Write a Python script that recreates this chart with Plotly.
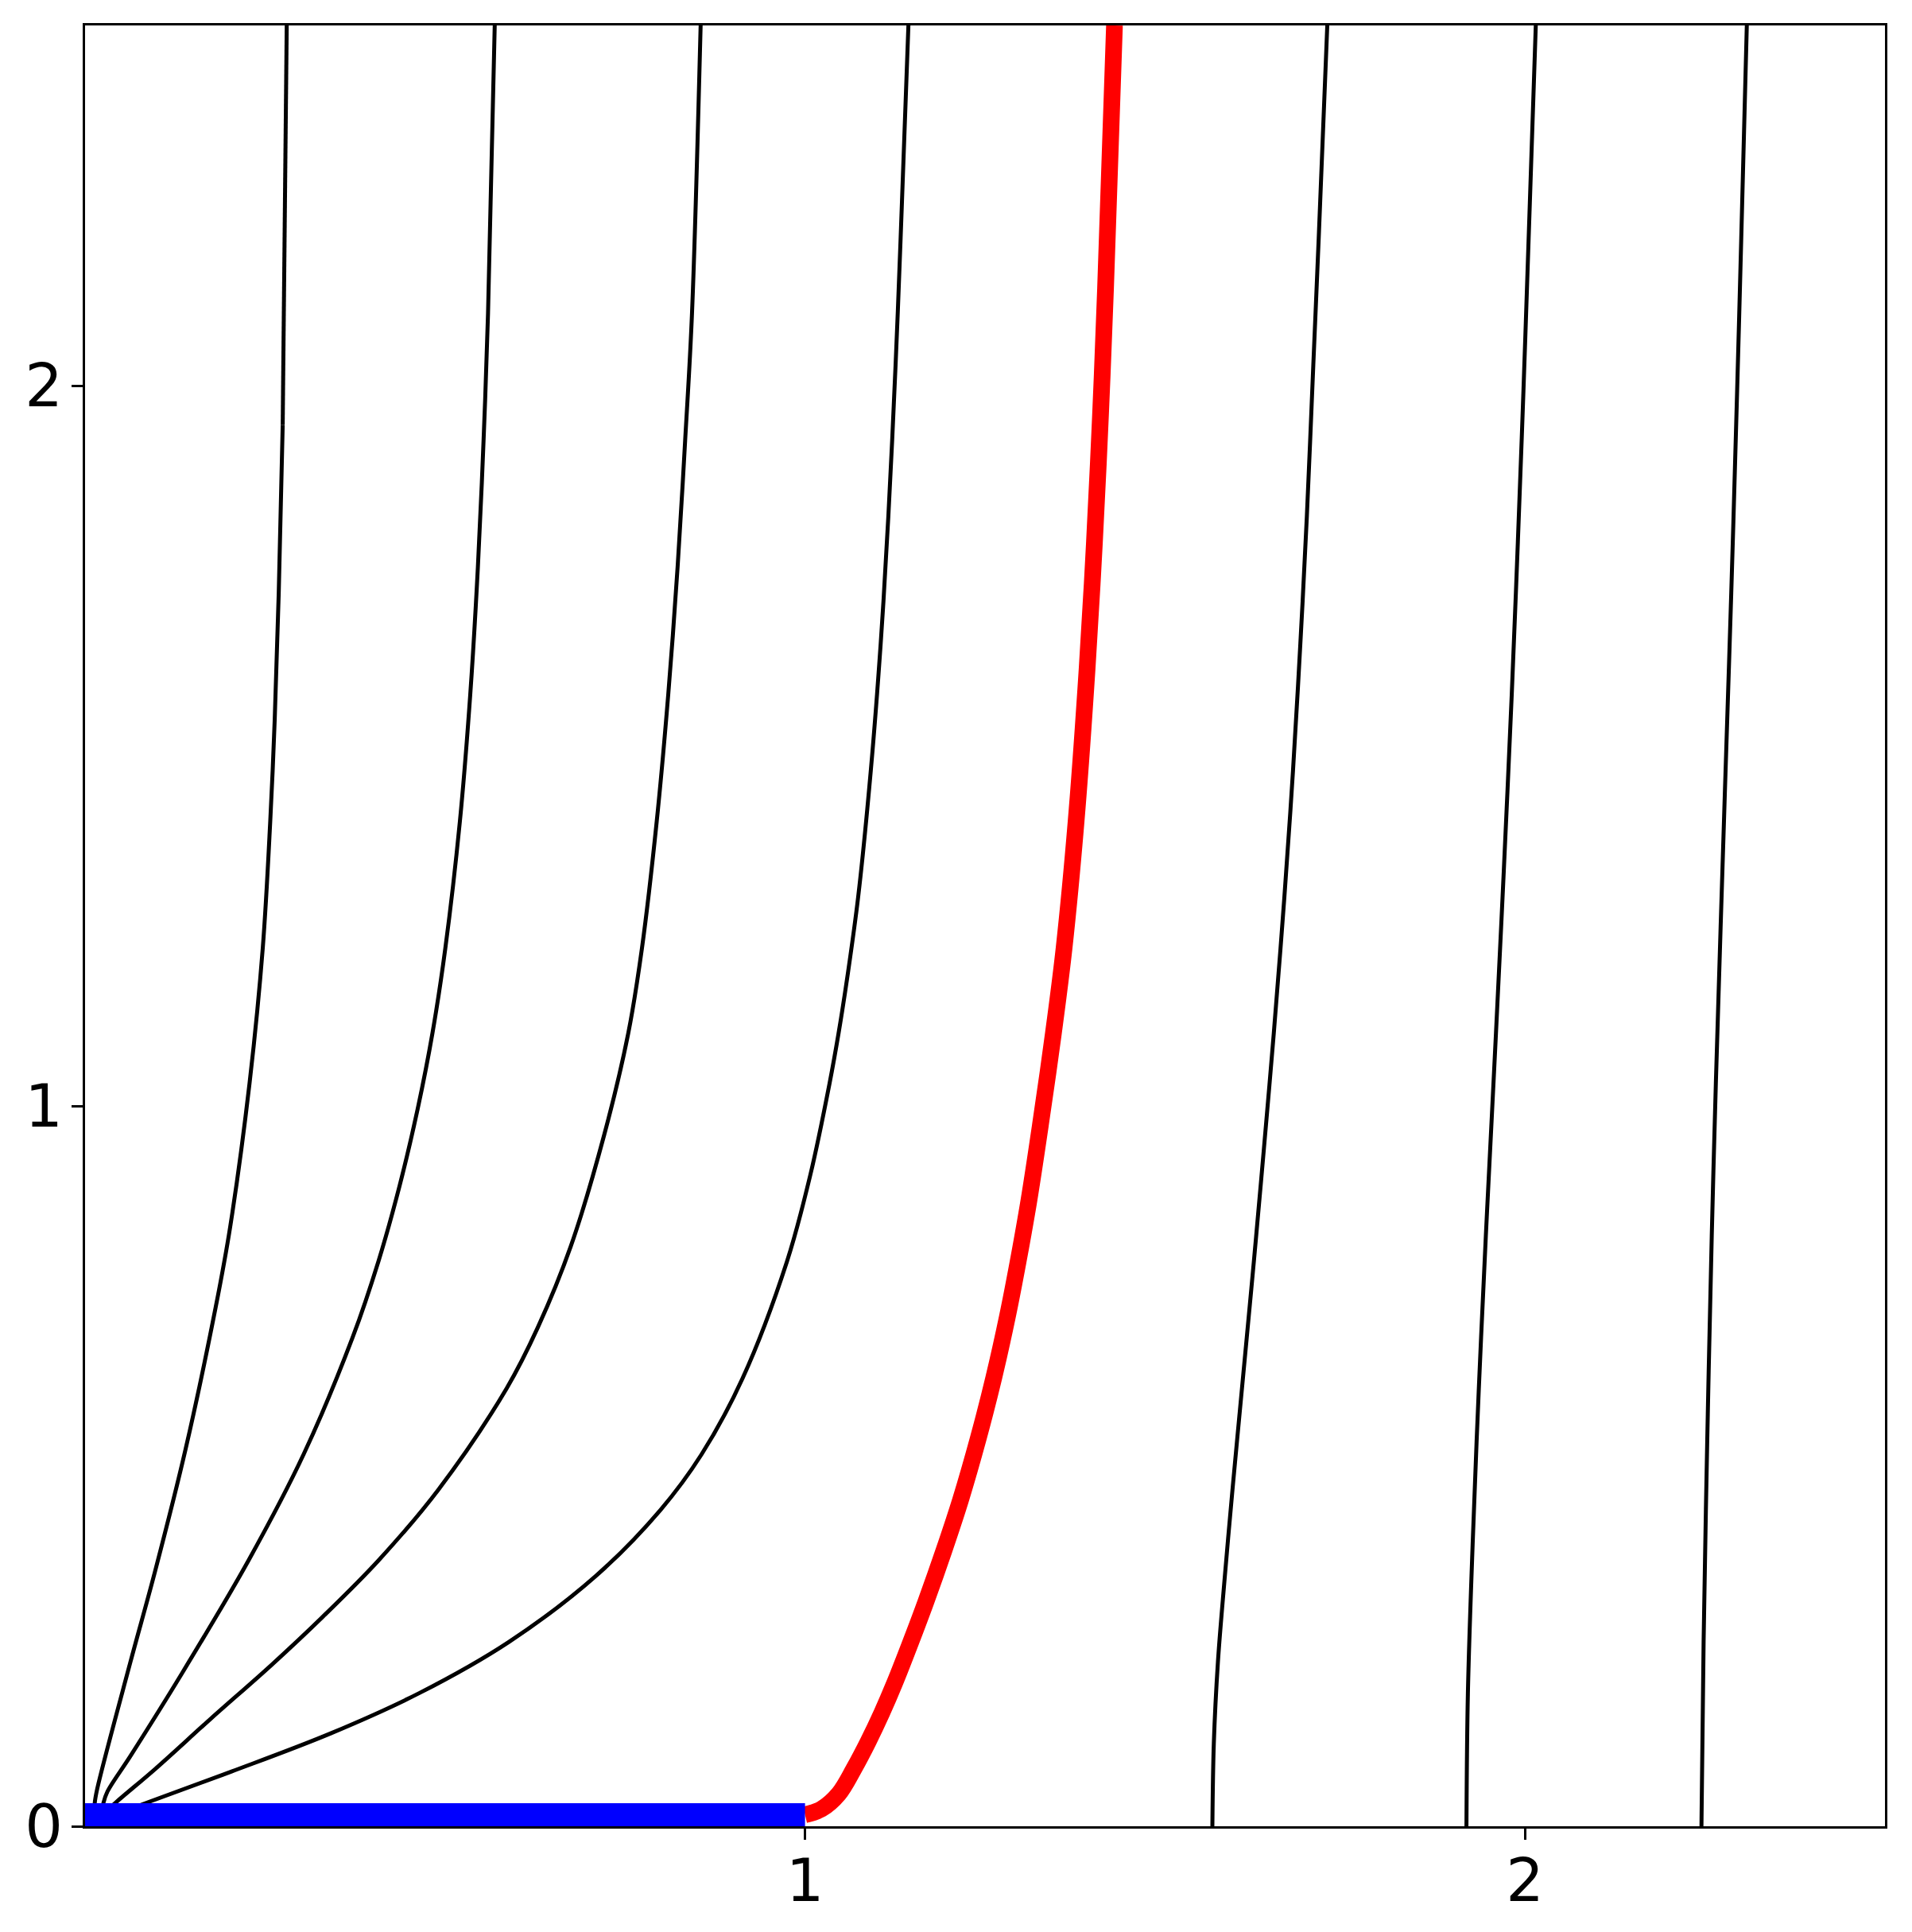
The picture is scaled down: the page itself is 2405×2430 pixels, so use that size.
import plotly.graph_objects as go

# ---- data ----
curve1_x = [0.0125, 0.0134, 0.0169, 0.0630, 0.0975, 0.1395, 0.1815, 0.2017, 0.2284, 0.2468, 0.2572, 0.2634, 0.2690, 0.2745]
curve1_y = [0.0, 0.032, 0.052, 0.228, 0.355, 0.523, 0.721, 0.833, 1.031, 1.219, 1.395, 1.536, 1.712, 1.945]
curve1_top_x = [0.2745, 0.2772, 0.2801]
curve1_top_y = [1.945, 2.205, 2.5]

curve2_x = [0.020, 0.0254, 0.0310, 0.0627, 0.1332, 0.2270, 0.3034, 0.3714, 0.4074, 0.4371, 0.4618, 0.4825, 0.5004, 0.5206, 0.5350, 0.5456, 0.5535, 0.5597, 0.5690]
curve2_y = [0.0, 0.032, 0.048, 0.097, 0.210, 0.369, 0.516, 0.678, 0.784, 0.890, 0.995, 1.101, 1.219, 1.395, 1.571, 1.748, 1.924, 2.100, 2.5]

curve3_x = [0.006, 0.0415, 0.0979, 0.1754, 0.2590, 0.3303, 0.4075, 0.4905, 0.5856, 0.6291, 0.6746, 0.7211, 0.7545, 0.7735, 0.7940, 0.8100, 0.8230, 0.8335, 0.8430, 0.8550]
curve3_y = [0.0, 0.032, 0.080, 0.150, 0.224, 0.291, 0.369, 0.467, 0.608, 0.693, 0.805, 0.960, 1.101, 1.219, 1.395, 1.571, 1.748, 1.924, 2.100, 2.5]

curve4_x = [0.0, 0.0838, 0.2035, 0.3413, 0.4645, 0.5888, 0.7089, 0.7991, 0.8561, 0.9133, 0.9749, 1.0073, 1.0340, 1.0466, 1.0595, 1.0738, 1.0914, 1.1051, 1.1157, 1.1258, 1.1328, 1.1436]
curve4_y = [0.0, 0.032, 0.076, 0.129, 0.185, 0.256, 0.347, 0.439, 0.516, 0.622, 0.784, 0.904, 1.031, 1.101, 1.184, 1.290, 1.466, 1.642, 1.818, 2.029, 2.205, 2.5]

curve6_x = [1.5658, 1.5678, 1.5735, 1.5825, 1.5937, 1.6036, 1.6135, 1.6234, 1.6329, 1.6421, 1.6511, 1.6658, 1.6778, 1.6880, 1.6970, 1.7060, 1.7135, 1.7254]
curve6_y = [0.0, 0.115, 0.228, 0.340, 0.467, 0.573, 0.678, 0.784, 0.890, 0.995, 1.101, 1.290, 1.466, 1.642, 1.818, 2.029, 2.205, 2.5]

curve7_x = [1.9187, 1.9207, 1.9275, 1.9359, 1.9456, 1.9544, 1.9597, 1.9705, 1.9816, 1.9901, 1.9979, 2.0051, 2.0150]
curve7_y = [0.0, 0.185, 0.397, 0.608, 0.819, 0.995, 1.101, 1.325, 1.571, 1.783, 1.994, 2.205, 2.5]

curve8_x = [2.2451, 2.2481, 2.2532, 2.2594, 2.2651, 2.2775, 2.2865, 2.2947, 2.3004, 2.3081]
curve8_y = [0.0, 0.256, 0.538, 0.819, 1.031, 1.431, 1.712, 1.994, 2.205, 2.5]

red_x = [1.000, 1.0229, 1.0468, 1.0680, 1.0875, 1.1065, 1.1250, 1.1470, 1.1680, 1.1930, 1.2160, 1.2405, 1.2620, 1.2810, 1.2960, 1.3110, 1.3270, 1.3450, 1.3598, 1.3765, 1.3918, 1.4020, 1.4104, 1.4174, 1.4298]
red_y = [0.016, 0.024, 0.045, 0.080, 0.117, 0.157, 0.200, 0.256, 0.312, 0.383, 0.453, 0.538, 0.622, 0.707, 0.784, 0.869, 0.974, 1.101, 1.219, 1.395, 1.607, 1.783, 1.959, 2.135, 2.5]

blue_x = [0.0, 1.0]
blue_y = [0.0, 0.0]

x_ticks = [1, 2]
y_ticks = [0, 1, 2]
x_range = [0, 2.5]
y_range = [0, 2.5]

# ---- figure ----
fig = go.Figure()

smooth_curves = [
    (curve1_x, curve1_y), (curve2_x, curve2_y), (curve3_x, curve3_y), (curve4_x, curve4_y),
    (curve6_x, curve6_y), (curve7_x, curve7_y), (curve8_x, curve8_y),
]
for cx, cy in smooth_curves:
    fig.add_trace(go.Scatter(x=cx, y=cy, mode="lines",
                             line=dict(color="black", width=5, shape="spline", smoothing=1.0),
                             showlegend=False, hoverinfo="skip"))

fig.add_trace(go.Scatter(x=curve1_top_x, y=curve1_top_y, mode="lines",
                         line=dict(color="black", width=5),
                         showlegend=False, hoverinfo="skip"))

fig.add_trace(go.Scatter(x=red_x, y=red_y, mode="lines",
                         line=dict(color="#ff0000", width=21, shape="spline", smoothing=1.0),
                         showlegend=False, hoverinfo="skip"))

fig.add_trace(go.Scatter(x=blue_x, y=blue_y, mode="lines",
                         line=dict(color="#0000ff", width=58),
                         showlegend=False, hoverinfo="skip"))

axis_common = dict(
    showgrid=False, zeroline=False, automargin=False,
    showline=True, linecolor="black", linewidth=3, mirror=True,
    ticks="outside", ticklen=14, tickwidth=3, tickcolor="black",
    tickfont=dict(family="DejaVu Sans", size=75, color="black"),
)

fig.update_xaxes(range=x_range, tickmode="array", tickvals=x_ticks,
                 ticktext=[str(v) for v in x_ticks], ticklabelstandoff=-13, **axis_common)
fig.update_yaxes(range=y_range, tickmode="array", tickvals=y_ticks,
                 ticktext=[str(v) for v in y_ticks], ticklabelstandoff=-4, **axis_common)

# the page body adds an 8 px offset, so the figure is 8 px smaller and margins compensate
fig.update_layout(
    width=2397, height=2422, autosize=False,
    margin=dict(l=99, r=34, t=24, b=133, pad=0),
    paper_bgcolor="white", plot_bgcolor="white",
    font=dict(family="DejaVu Sans", color="black"),
)

fig.write_html("out.html")
